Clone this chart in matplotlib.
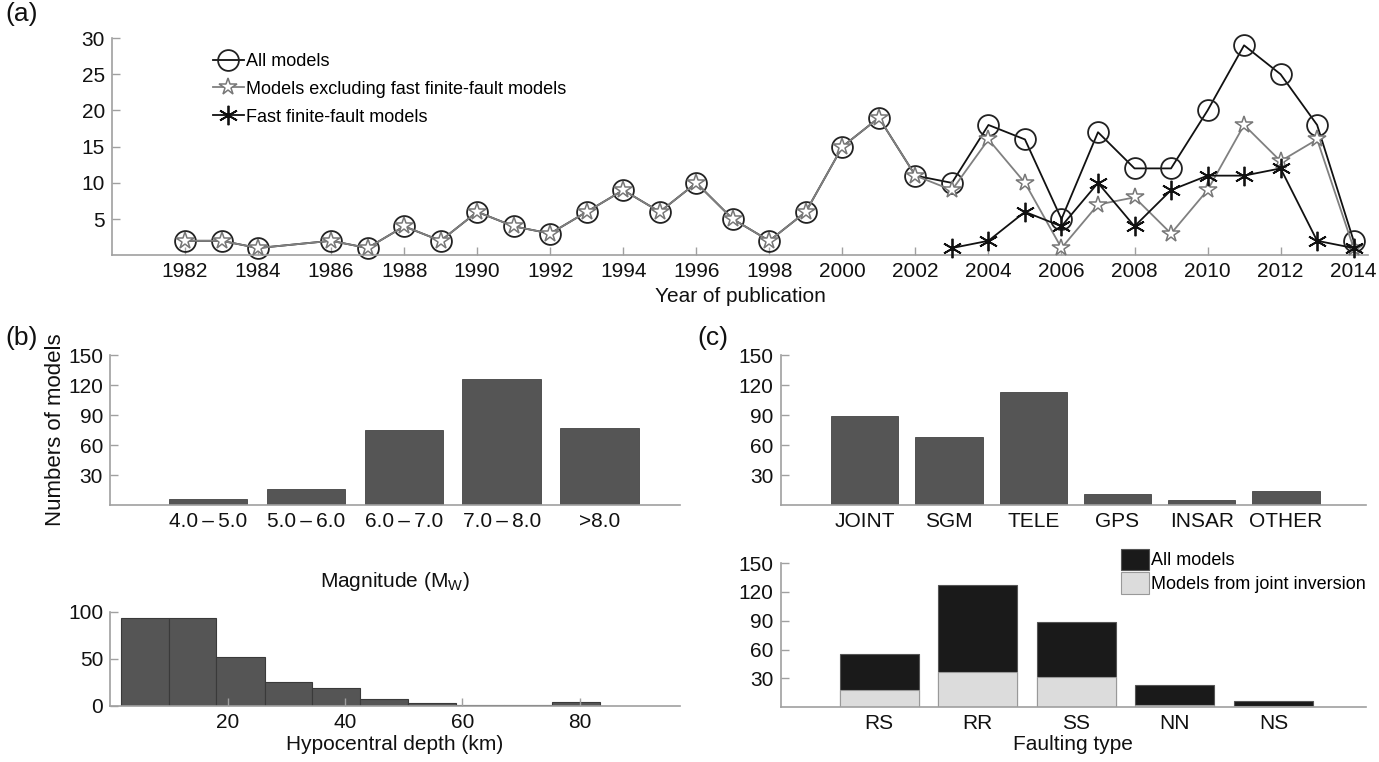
import numpy as np
import matplotlib
matplotlib.use("Agg")
import matplotlib.pyplot as plt

plt.rcParams['font.family'] = ['Liberation Sans', 'DejaVu Sans']
plt.rcParams['mathtext.fontset'] = 'custom'
plt.rcParams['mathtext.rm'] = 'Liberation Sans'

# ---------------- data ----------------
years = [1982, 1983, 1984, 1986, 1987, 1988, 1989, 1990, 1991, 1992, 1993, 1994,
         1995, 1996, 1997, 1998, 1999, 2000, 2001, 2002, 2003, 2004, 2005, 2006,
         2007, 2008, 2009, 2010, 2011, 2012, 2013, 2014]
all_models = [2, 2, 1, 2, 1, 4, 2, 6, 4, 3, 6, 9, 6, 10, 5, 2, 6, 15, 19, 11,
              10, 18, 16, 5, 17, 12, 12, 20, 29, 25, 18, 2]
excl_fast = [2, 2, 1, 2, 1, 4, 2, 6, 4, 3, 6, 9, 6, 10, 5, 2, 6, 15, 19, 11,
             9, 16, 10, 1, 7, 8, 3, 9, 18, 13, 16, 1]
fast_years = [2003, 2004, 2005, 2006, 2007, 2008, 2009, 2010, 2011, 2012, 2013, 2014]
fast_models = [1, 2, 6, 4, 10, 4, 9, 11, 11, 12, 2, 1]
year_ticks = list(range(1982, 2015, 2))

mag_labels = ['4.0\u2009–\u20095.0', '5.0\u2009–\u20096.0', '6.0\u2009–\u20097.0',
              '7.0\u2009–\u20098.0', '>8.0']
mag_counts = [6, 16, 75, 126, 77]

depth_edges = [1.8, 10.0, 18.1, 26.3, 34.4, 42.6, 50.8, 58.9, 67.1, 75.3, 83.4]
depth_counts = [93, 94, 52, 26, 19, 7, 3, 1, 1, 4]

data_labels = ['JOINT', 'SGM', 'TELE', 'GPS', 'INSAR', 'OTHER']
data_counts = [89, 68, 113, 11, 5, 14]

fault_labels = ['RS', 'RR', 'SS', 'NN', 'NS']
fault_all = [55, 127, 89, 23, 6]
fault_joint = [18, 37, 31, 2, 1]

# ---------------- style ----------------
SPINE = '#a0a0a0'
BAR = '#555555'
TXT = '#111111'
FS = 15


def style(ax):
    for s in ['top', 'right']:
        ax.spines[s].set_visible(False)
    for s in ['left', 'bottom']:
        ax.spines[s].set_color(SPINE)
        ax.spines[s].set_linewidth(1.2)
    ax.tick_params(direction='in', color=SPINE, length=6, width=1.0,
                   labelsize=FS, labelcolor=TXT, pad=5)


fig = plt.figure(figsize=(13.79, 7.62), dpi=100)

# ---------------- (a) ----------------
axa = fig.add_axes([0.0812, 0.665, 0.911, 0.285])
style(axa)
axa.plot(years, all_models, color='#111111', lw=1.3, marker='o', ms=15,
         mfc='none', mec='#222222', mew=1.3, label='All models', zorder=2,
         clip_on=False)
axa.plot(years, excl_fast, color='#808080', lw=1.3, marker='*', ms=13,
         mfc='white', mec='#777777', mew=1.1,
         label='Models excluding fast finite-fault models', zorder=3,
         clip_on=False)
axa.plot(fast_years, fast_models, color='#111111', lw=1.3, marker=(6, 2, 0),
         ms=14, mec='#111111', mew=1.3, label='Fast finite-fault models',
         zorder=4, clip_on=False)
axa.set_xlim(1980, 2014.4)
axa.set_ylim(0, 30)
axa.set_yticks([5, 10, 15, 20, 25, 30])
axa.set_xticks(year_ticks)
axa.set_xlabel('Year of publication', fontsize=FS, color=TXT, labelpad=4)
axa.legend(loc='upper left', bbox_to_anchor=(0.07, 0.99), frameon=False,
           fontsize=13, handlelength=1.75, handletextpad=0.1, labelspacing=0.6,
           borderpad=0.2)

# ---------------- (b) top ----------------
axb1 = fig.add_axes([0.0798, 0.337, 0.4132, 0.197])
style(axb1)
xm = np.arange(1, len(mag_labels) + 1)
axb1.bar(xm, mag_counts, width=0.8, color=BAR, edgecolor='#444444', lw=0.6)
axb1.set_xlim(0, 5.82)
axb1.set_ylim(0, 150)
axb1.set_yticks([30, 60, 90, 120, 150])
axb1.set_xticks(xm)
axb1.set_xticklabels(mag_labels)
axb1.tick_params(axis='x', length=0)
axb1.set_xlabel('Magnitude (M$_\\mathregular{W}$)', fontsize=FS, color=TXT)
axb1.xaxis.set_label_coords(0.5, -0.43)
axb1.set_ylabel('Numbers of models', fontsize=FS + 1, color=TXT)
axb1.yaxis.set_label_coords(-0.077, 0.5)

# ---------------- (b) bottom ----------------
axb2 = fig.add_axes([0.0798, 0.0735, 0.4132, 0.1235])
style(axb2)
edges = np.array(depth_edges)
axb2.bar(edges[:-1], depth_counts, width=np.diff(edges), align='edge',
         color=BAR, edgecolor='#3a3a3a', lw=0.8)
axb2.set_xlim(0, 97)
axb2.set_ylim(0, 100)
axb2.set_yticks([0, 50, 100])
axb2.set_xticks([20, 40, 60, 80])
axb2.set_xlabel('Hypocentral depth (km)', fontsize=FS, color=TXT)
axb2.xaxis.set_label_coords(0.5, -0.31)

# ---------------- (c) top ----------------
axc1 = fig.add_axes([0.566, 0.337, 0.4246, 0.197])
style(axc1)
xd = np.arange(1, len(data_labels) + 1)
axc1.bar(xd, data_counts, width=0.8, color=BAR, edgecolor='#444444', lw=0.6)
axc1.set_xlim(0, 6.95)
axc1.set_ylim(0, 150)
axc1.set_yticks([30, 60, 90, 120, 150])
axc1.set_xticks(xd)
axc1.set_xticklabels(data_labels)
axc1.tick_params(axis='x', length=0)

# ---------------- (c) bottom ----------------
axc2 = fig.add_axes([0.566, 0.072, 0.4246, 0.189])
style(axc2)
xf = np.arange(1, len(fault_labels) + 1)
axc2.bar(xf, fault_all, width=0.8, color='#1a1a1a', edgecolor='#555555', lw=0.8,
         label='All models')
axc2.bar(xf, fault_joint, width=0.8, color='#dcdcdc', edgecolor='#999999', lw=0.8,
         label='Models from joint inversion')
axc2.set_xlim(0, 5.94)
axc2.set_ylim(0, 150)
axc2.set_yticks([30, 60, 90, 120, 150])
axc2.set_xticks(xf)
axc2.set_xticklabels(fault_labels)
axc2.tick_params(axis='x', length=0)
axc2.set_xlabel('Faulting type', fontsize=FS, color=TXT)
axc2.xaxis.set_label_coords(0.5, -0.195)
axc2.legend(loc='upper right', bbox_to_anchor=(1.0, 1.1), frameon=False,
            fontsize=13, handlelength=1.55, handleheight=1.45, handletextpad=0.12,
            labelspacing=0.12, borderpad=0.0, borderaxespad=0.0)

# ---------------- panel labels ----------------
fig.text(0.004, 0.997, '(a)', fontsize=19, va='top', ha='left', color=TXT)
fig.text(0.004, 0.572, '(b)', fontsize=19, va='top', ha='left', color=TXT)
fig.text(0.506, 0.572, '(c)', fontsize=19, va='top', ha='left', color=TXT)

fig.savefig('out.png', dpi=100)
